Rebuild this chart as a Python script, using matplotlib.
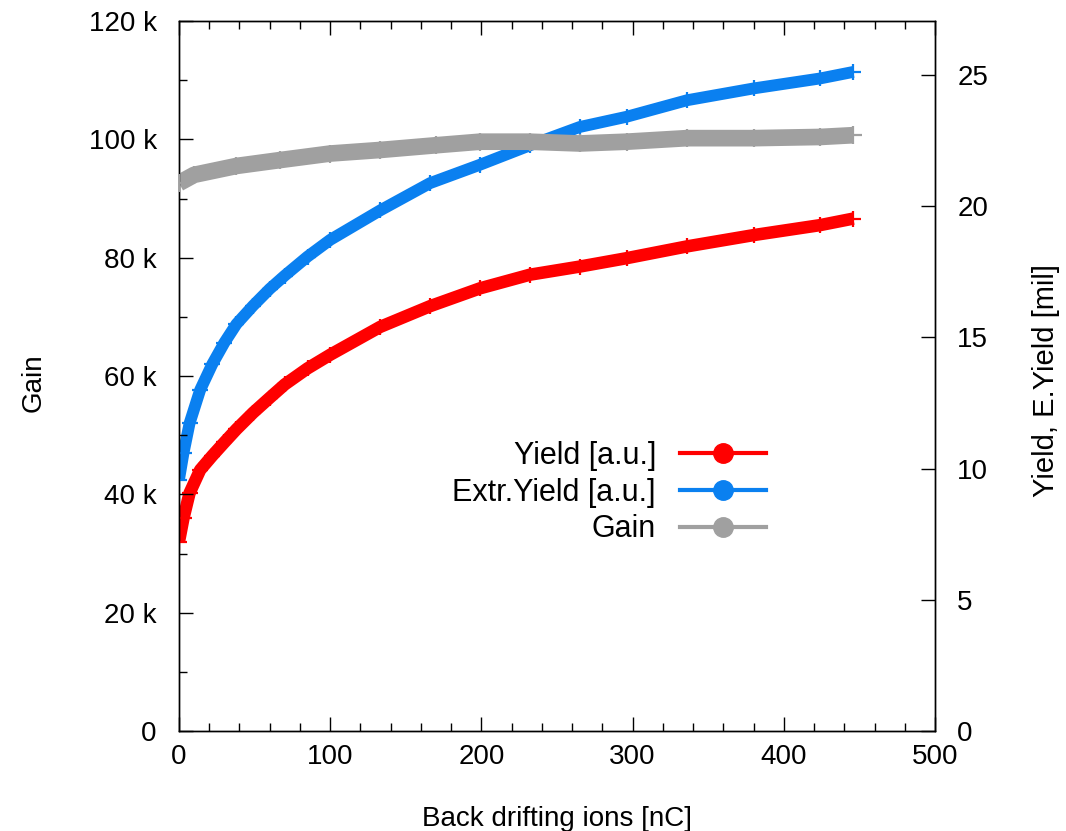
import matplotlib
matplotlib.use("Agg")
import matplotlib.pyplot as plt
from matplotlib.lines import Line2D
from matplotlib.ticker import MultipleLocator, FuncFormatter

# ---- data ----
yield_x = [0, 3, 7, 14, 22, 30, 38, 49, 60, 70, 85, 100, 133, 166, 199, 232, 265, 296, 336, 380, 424, 446]
yield_y = [7.22, 8.12, 9.07, 9.95, 10.49, 11.00, 11.50, 12.13, 12.70, 13.21, 13.82, 14.34, 15.40,
           16.19, 16.87, 17.39, 17.70, 18.02, 18.47, 18.90, 19.28, 19.53]

eyield_x = [0, 3, 7, 14, 22, 30, 38, 49, 60, 70, 85, 100, 133, 166, 199, 232, 265, 296, 336, 380, 424, 446]
eyield_y = [9.58, 10.60, 11.73, 13.00, 13.98, 14.80, 15.51, 16.21, 16.85, 17.36, 18.08, 18.72, 19.84,
            20.88, 21.58, 22.32, 23.02, 23.41, 24.04, 24.49, 24.87, 25.12]

gain_x = [0, 10, 38, 67, 100, 133, 170, 199, 232, 265, 296, 336, 380, 424, 446]
gain_y = [92600, 94000, 95500, 96500, 97600, 98200, 99000, 99600, 99600, 99300,
          99600, 100200, 100200, 100400, 100700]

series_labels = ["Yield [a.u.]", "Extr.Yield [a.u.]", "Gain"]
x_ticks = [0, 100, 200, 300, 400, 500]
gain_ticks = [0, 20000, 40000, 60000, 80000, 100000, 120000]
yield_ticks = [0, 5, 10, 15, 20, 25]

RED = "#ff0000"
BLUE = "#0a80f0"
GRAY = "#a0a0a0"

plt.rcParams['font.family'] = ['Liberation Sans', 'DejaVu Sans']
FS = 20

fig = plt.figure(figsize=(10.66, 8.31), dpi=100)
ax = fig.add_axes([179/1066, 1-731/831, (935-179)/1066, (731-21)/831])
ax2 = ax.twinx()

# right axis: yield series
for xs, ys, c, lw in [(yield_x, yield_y, RED, 9), (eyield_x, eyield_y, BLUE, 8.5)]:
    ax2.plot(xs, ys, color=c, lw=lw, solid_capstyle='butt', solid_joinstyle='round', zorder=2)
    ax2.plot(xs, ys, ls='none', marker='+', ms=11, mew=1.6, color=c, zorder=3)

# left axis: gain
ax.plot(gain_x, gain_y, color=GRAY, lw=12, solid_capstyle='butt', solid_joinstyle='round', zorder=2)
ax.plot(gain_x, gain_y, ls='none', marker='+', ms=13, mew=1.6, color=GRAY, zorder=3)
ax.set_zorder(ax2.get_zorder() + 1)
ax.patch.set_visible(False)

ax.set_xlim(0, 500)
ax.set_ylim(0, 120000)
ax2.set_ylim(0, 27.06)

ax.set_xticks(x_ticks)
ax.xaxis.set_minor_locator(MultipleLocator(20))
ax.set_yticks(gain_ticks)
ax.yaxis.set_minor_locator(MultipleLocator(10000))
ax.yaxis.set_major_formatter(FuncFormatter(lambda v, p: "0" if v == 0 else f"{int(v/1000)} k"))
ax2.set_yticks(yield_ticks)

ax.tick_params(axis='x', which='both', direction='in', top=True, bottom=True,
               labelsize=FS, pad=9)
ax.tick_params(axis='x', which='major', length=10, width=1)
ax.tick_params(axis='x', which='minor', length=6, width=1)
ax.tick_params(axis='y', which='both', direction='in', left=True, right=False,
               labelsize=FS, pad=16)
ax.tick_params(axis='y', which='major', length=10, width=1)
ax.tick_params(axis='y', which='minor', length=6, width=1)
ax2.tick_params(axis='y', which='major', direction='in', length=10, width=1,
                labelsize=FS, pad=16)
ax2.tick_params(axis='y', which='minor', right=False)

for a in (ax, ax2):
    for s in a.spines.values():
        s.set_linewidth(1.0)
        s.set_color('black')

ax.set_xlabel("Back drifting ions [nC]", fontsize=FS)
ax.xaxis.set_label_coords(0.5, (731 - 806) / 710)
ax.set_ylabel("Gain", fontsize=FS)
ax.yaxis.set_label_coords((47 - 179) / 756, 0.49)
ax2.set_ylabel("Yield, E.Yield [mil]", fontsize=21)
ax2.yaxis.set_label_coords((1032 - 179) / 756, 0.493)

handles = [Line2D([0], [0], color=c, lw=3, marker='o', ms=14)
           for c in (RED, BLUE, GRAY)]
ax.legend(handles, series_labels, loc='upper right',
          bbox_to_anchor=(766/1066, 1-441/831), bbox_transform=fig.transFigure,
          frameon=False, markerfirst=False, fontsize=22, handlelength=2.8,
          handletextpad=0.8, labelspacing=0.22, borderpad=0, borderaxespad=0)

fig.savefig("out.png", dpi=100)
